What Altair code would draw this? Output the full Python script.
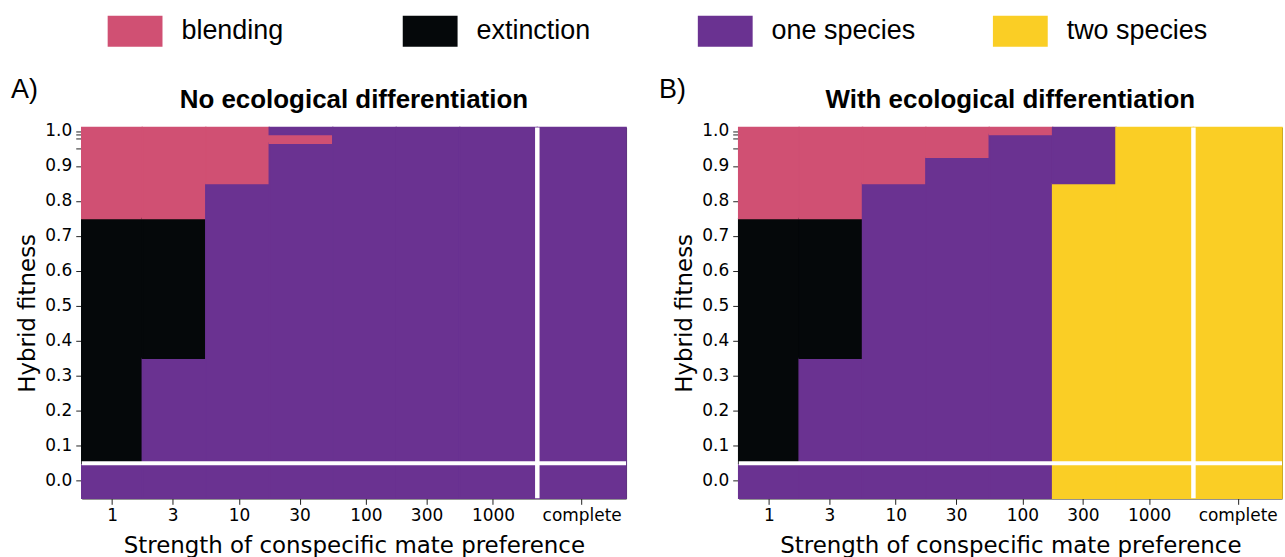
import altair as alt
import numpy as np
import pandas as pd

# ---------------- data ----------------
x_labels = ["1", "3", "10", "30", "100", "300", "1000", "complete"]
x_values = [1, 3, 10, 30, 100, 300, 1000, 5000]          # 'complete' sits at 5000 on the log axis
y_values = [0.0, 0.1, 0.2, 0.3, 0.4, 0.5, 0.6, 0.7, 0.8, 0.9, 0.95, 0.98, 1.0]
y_tick_labelled = [0.0, 0.1, 0.2, 0.3, 0.4, 0.5, 0.6, 0.7, 0.8, 0.9, 1.0]
y_tick_minor = [0.95, 0.98, 0.99]

outcome_codes = ["B", "E", "O", "T"]
outcome_names = ["blending", "extinction", "one species", "two species"]
outcome_colors = ["#D05073", "#05080A", "#6A3291", "#FACE25"]

# one string per x column, rows listed from y=0.0 (left) up to y=1.0 (right)
panel_a_columns = [
    "OEEEEEEEBBBBB",
    "OOOOEEEEBBBBB",
    "OOOOOOOOOBBBB",
    "OOOOOOOOOOOBO",
    "OOOOOOOOOOOOO",
    "OOOOOOOOOOOOO",
    "OOOOOOOOOOOOO",
    "OOOOOOOOOOOOO",
]
panel_b_columns = [
    "OEEEEEEEBBBBB",
    "OOOOEEEEBBBBB",
    "OOOOOOOOOBBBB",
    "OOOOOOOOOOBBB",
    "OOOOOOOOOOOOB",
    "TTTTTTTTTOOOO",
    "TTTTTTTTTTTTT",
    "TTTTTTTTTTTTT",
]

panel_titles = ["No ecological differentiation", "With ecological differentiation"]
panel_tags = ["A)", "B)"]
x_title = "Strength of conspecific mate preference"
y_title = "Hybrid fitness"

# ---------------- cell edges (geometric mid-points in x, linear in y) ----------------
xv = np.array(x_values, dtype=float)
xm = np.sqrt(xv[:-1] * xv[1:])
x_lo = np.concatenate([[xv[0] ** 2 / xm[0]], xm])
x_hi = np.concatenate([xm, [xv[-1] ** 2 / xm[-1]]])

yv = np.array(y_values, dtype=float)
ym = (yv[:-1] + yv[1:]) / 2
y_lo = np.concatenate([[2 * yv[0] - ym[0]], ym])
y_hi = np.concatenate([ym, [2 * yv[-1] - ym[-1]]])

code_to_name = dict(zip(outcome_codes, outcome_names))


def build_cells(columns):
    """One rect per run of equal outcomes inside a column (avoids hairline seams)."""
    rows = []
    for i, col in enumerate(columns):
        start = 0
        for j in range(1, len(col) + 1):
            if j == len(col) or col[j] != col[start]:
                rows.append({"x0": x_lo[i], "x1": x_hi[i], "y0": y_lo[start], "y1": y_hi[j - 1],
                             "outcome": code_to_name[col[start]]})
                start = j
    return pd.DataFrame(rows)


x_sep = float(x_hi[-2])   # boundary between 1000 and complete
y_sep = float(y_hi[0])    # boundary between 0.0 and 0.1

x_label_expr = " : ".join(
    f"datum.value == {v} ? '{l}'" for v, l in zip(x_values, x_labels)) + " : ''"
minor_list = ",".join(str(v) for v in y_tick_minor)
y_label_expr = f"indexof([{minor_list}], datum.value) >= 0 ? '' : format(datum.value, '.1f')"

x_scale = alt.Scale(type="log", domain=[float(x_lo[0]), float(x_hi[-1])], nice=False)
y_scale = alt.Scale(domain=[float(y_lo[0]), float(y_hi[-1])], nice=False, zero=False)
color_scale = alt.Scale(domain=outcome_names, range=outcome_colors)

x_axis = alt.Axis(values=x_values, labelExpr=x_label_expr, title=x_title, labelOverlap=False)
y_axis = alt.Axis(values=y_tick_labelled + y_tick_minor, labelExpr=y_label_expr,
                  title=y_title, labelOverlap=False)

legend_shape = "M-1,-0.5636L1,-0.5636L1,0.5636L-1,0.5636Z"
legend = alt.Legend(
    orient="none", legendX=26, legendY=-124, direction="horizontal", columns=4,
    gridAlign="all", columnPadding=77, title=None, symbolType=legend_shape,
    symbolSize=3025, symbolStrokeWidth=0, symbolOpacity=1, labelFont="Liberation Sans",
    labelFontSize=27, labelOffset=19, labelColor="#000000", labelLimit=400,
)

LABEL_FONT = "DejaVu Sans"
TEXT_FONT = "Liberation Sans"


def panel(columns, title, tag, tag_dx, width):
    df = build_cells(columns)
    rects = alt.Chart(df).mark_rect(strokeWidth=1.5).encode(
        x=alt.X("x0:Q", scale=x_scale, axis=x_axis),
        x2="x1:Q",
        y=alt.Y("y0:Q", scale=y_scale, axis=y_axis),
        y2="y1:Q",
        fill=alt.Fill("outcome:N", scale=color_scale, legend=legend),
        stroke=alt.Stroke("outcome:N", scale=color_scale, legend=None),
    )
    hline = alt.Chart(pd.DataFrame({"y0": [y_sep]})).mark_rule(
        color="white", strokeWidth=4).encode(y=alt.Y("y0:Q", scale=y_scale, axis=y_axis))
    vline = alt.Chart(pd.DataFrame({"x0": [x_sep]})).mark_rule(
        color="white", strokeWidth=4.5).encode(x=alt.X("x0:Q", scale=x_scale, axis=x_axis))
    tag_text = alt.Chart(pd.DataFrame({"tag": [tag]})).mark_text(
        align="left", baseline="middle", font=TEXT_FONT, fontSize=27, color="#000000"
    ).encode(text="tag:N", x=alt.value(tag_dx), y=alt.value(-38))
    title_text = alt.Chart(pd.DataFrame({"title": [title]})).mark_text(
        align="center", baseline="alphabetic", font=TEXT_FONT, fontSize=26,
        fontWeight="bold", color="#000000"
    ).encode(text="title:N", x=alt.value(width / 2), y=alt.value(-20))
    return alt.layer(rects, hline, vline, tag_text, title_text).properties(
        width=width, height=372)


chart_a = panel(panel_a_columns, panel_titles[0], panel_tags[0], -71, 546)
chart_b = panel(panel_b_columns, panel_titles[1], panel_tags[1], -80, 545)

chart = (
    alt.hconcat(chart_a, chart_b, spacing=113, bounds="flush")
    .resolve_scale(fill="shared", stroke="shared")
    .properties(padding={"left": 10, "top": 3, "right": 0, "bottom": 0})
    .configure_view(stroke="#333333", strokeWidth=1)
    .configure_axis(
        grid=False, domain=True, domainColor="#333333", tickColor="#222222", tickSize=6,
        tickWidth=1, labelFont=LABEL_FONT, labelFontSize=17, labelColor="#000000",
        titleFont=LABEL_FONT, titleFontSize=23, titleFontWeight="normal", titleColor="#000000",
        labelOverlap=False,
    )
    .configure_axisX(labelPadding=3, titlePadding=11)
    .configure_axisY(labelPadding=4, titlePadding=5)
)

chart.save("out.html", embed_options={"renderer": "svg", "actions": False})
